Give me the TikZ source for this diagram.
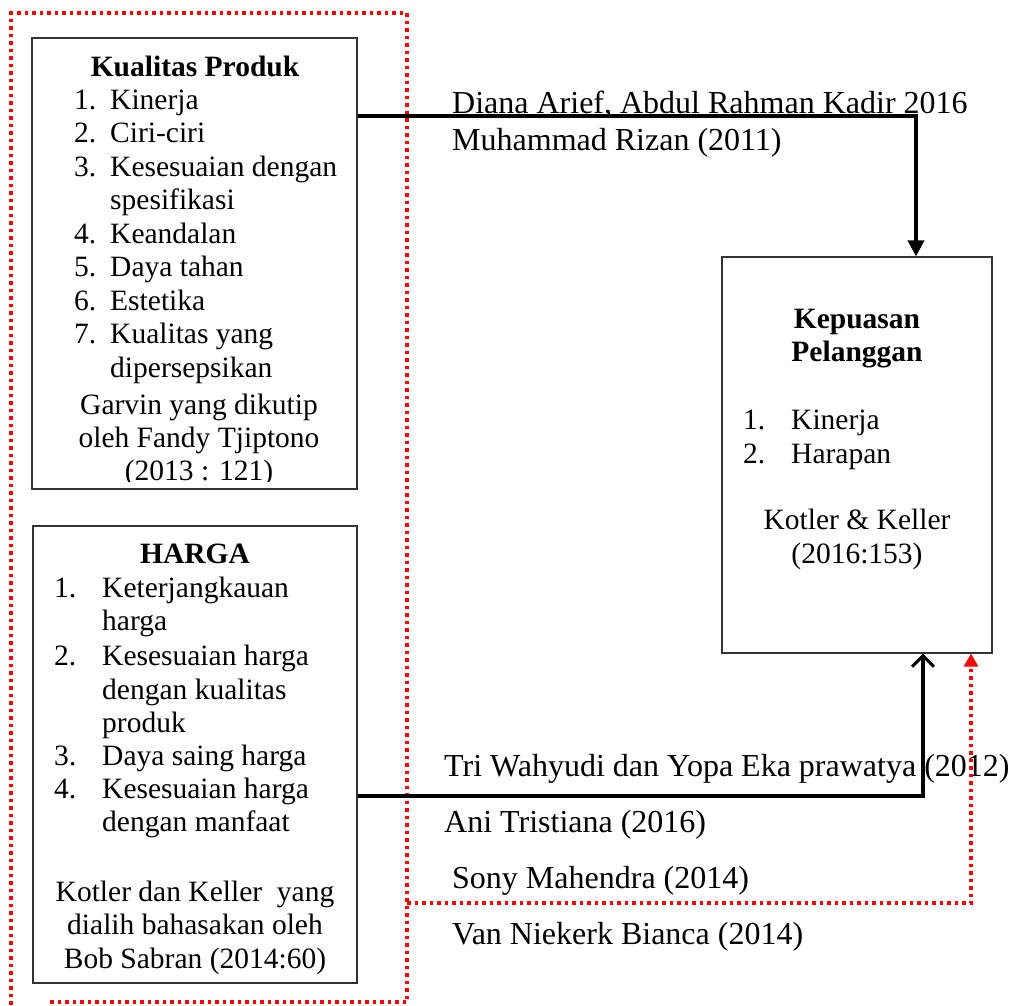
\documentclass[tikz,border=0pt]{standalone}
\usepackage{fontspec}
\setmainfont{Liberation Serif}
\usetikzlibrary{arrows.meta}
\begin{document}
\begin{tikzpicture}[x=1pt,y=-1pt,
  boxtext/.style={inner sep=0pt,font=\fontsize{29.5}{33.5}\selectfont},
  reftext/.style={inner sep=0pt,anchor=base west,font=\fontsize{32}{36}\selectfont},
  lw/.style={boxtext,anchor=base west},
  lc/.style={boxtext,anchor=base},
  panel/.style={draw=black!80,line width=1.2pt,inner sep=0pt},
  conn/.style={line width=3.5pt},
  reddot/.style={draw=red,line width=3.5pt,dash pattern=on 3.5pt off 4pt}]
\useasboundingbox (0,0) rectangle (1022,1005);

% boxes
\node[panel,minimum width=325pt,minimum height=451pt] (box1) at (194.5,263.5) {};
\node[panel,minimum width=324pt,minimum height=457pt] (box2) at (195,754.5) {};
\node[panel,minimum width=270pt,minimum height=396pt] (box3) at (857,455) {};

% box 1 text
\node[lc,font=\fontsize{29.5}{33.5}\selectfont\bfseries] (t1) at (195,76) {Kualitas Produk};
\node[lw] (n11) at (74,109) {1.};   \node[lw] (i11) at (110,109) {Kinerja};
\node[lw] (n12) at (74,142.5) {2.}; \node[lw] (i12) at (110,142.5) {Ciri-ciri};
\node[lw] (n13) at (74,176) {3.};   \node[lw] (i13) at (110,176) {Kesesuaian dengan};
\node[lw] (i13b) at (110,209.5) {spesifikasi};
\node[lw] (n14) at (74,243) {4.};   \node[lw] (i14) at (110,243) {Keandalan};
\node[lw] (n15) at (74,276.5) {5.}; \node[lw] (i15) at (110,276.5) {Daya tahan};
\node[lw] (n16) at (74,310) {6.};   \node[lw] (i16) at (110,310) {Estetika};
\node[lw] (n17) at (74,343.5) {7.}; \node[lw] (i17) at (110,343.5) {Kualitas yang};
\node[lw] (i17b) at (110,377) {dipersepsikan};
\node[lc] (s11) at (199,414) {Garvin yang dikutip};
\node[lc] (s12) at (199,447) {oleh Fandy Tjiptono};
\begin{scope}
\clip (33,38) rectangle (357,481.5);
\node[lc] (s13) at (199,480) {(2013 : 121)};
\end{scope}

% box 2 text
\node[lc,font=\fontsize{29.5}{33.5}\selectfont\bfseries] (t2) at (195,563) {HARGA};
\node[lw] (n21) at (54,597) {1.}; \node[lw] (i21) at (102,597) {Keterjangkauan};
\node[lw] (i21b) at (102,630) {harga};
\node[lw] (n22) at (54,665) {2.}; \node[lw] (i22) at (102,665) {Kesesuaian harga};
\node[lw] (i22b) at (102,699) {dengan kualitas};
\node[lw] (i22c) at (102,732) {produk};
\node[lw] (n23) at (54,765) {3.}; \node[lw] (i23) at (102,765) {Daya saing harga};
\node[lw] (n24) at (54,798) {4.}; \node[lw] (i24) at (102,798) {Kesesuaian harga};
\node[lw] (i24b) at (102,831) {dengan manfaat};
\node[lc] (s21) at (195,901) {Kotler dan Keller~ yang};
\node[lc] (s22) at (195,934.5) {dialih bahasakan oleh};
\node[lc] (s23) at (195,968) {Bob Sabran (2014:60)};

% box 3 text
\node[lc,font=\fontsize{29.5}{33.5}\selectfont\bfseries] (t3a) at (857,328) {Kepuasan};
\node[lc,font=\fontsize{29.5}{33.5}\selectfont\bfseries] (t3b) at (857,361) {Pelanggan};
\node[lw] (n31) at (743,429) {1.}; \node[lw] (i31) at (791,429) {Kinerja};
\node[lw] (n32) at (743,463) {2.}; \node[lw] (i32) at (791,463) {Harapan};
\node[lc] (s31) at (857,529) {Kotler \& Keller};
\node[lc] (s32) at (857,563) {(2016:153)};

% reference texts
\node[reftext] (r1) at (452,113) {Diana Arief, Abdul Rahman Kadir 2016};
\node[reftext] (r2) at (452,150) {Muhammad Rizan (2011)};
\node[reftext] (r3) at (444,776) {Tri Wahyudi dan Yopa Eka prawatya (2012)};
\node[reftext] (r4) at (444,832) {Ani Tristiana (2016)};
\node[reftext] (r5) at (452,888) {Sony Mahendra (2014)};
\node[reftext] (r6) at (452,944) {Van Niekerk Bianca (2014)};

% red dotted frame
\draw[reddot] (50,1002) -- (407,1002) -- (407,13) -- (11,13) -- (11,1005);

% connectors
\coordinate (k1) at (916,116);
\draw[conn,-{Triangle[width=16pt,length=16pt]}] (box1.east |- k1) -- (k1) -- (k1 |- box3.north);
\coordinate (k2) at (923,796);
\draw[conn,-{Straight Barb[width=22pt,length=11pt,line width=3pt]}] (box2.east |- k2) -- (k2) -- (k2 |- box3.south);
\coordinate (fr) at (407,903);
\coordinate (k3) at (971,903);
\draw[reddot,-{Triangle[width=14pt,length=13pt,sep=0pt]}] (fr) -- (k3) -- (k3 |- box3.south);
\end{tikzpicture}
\end{document}
